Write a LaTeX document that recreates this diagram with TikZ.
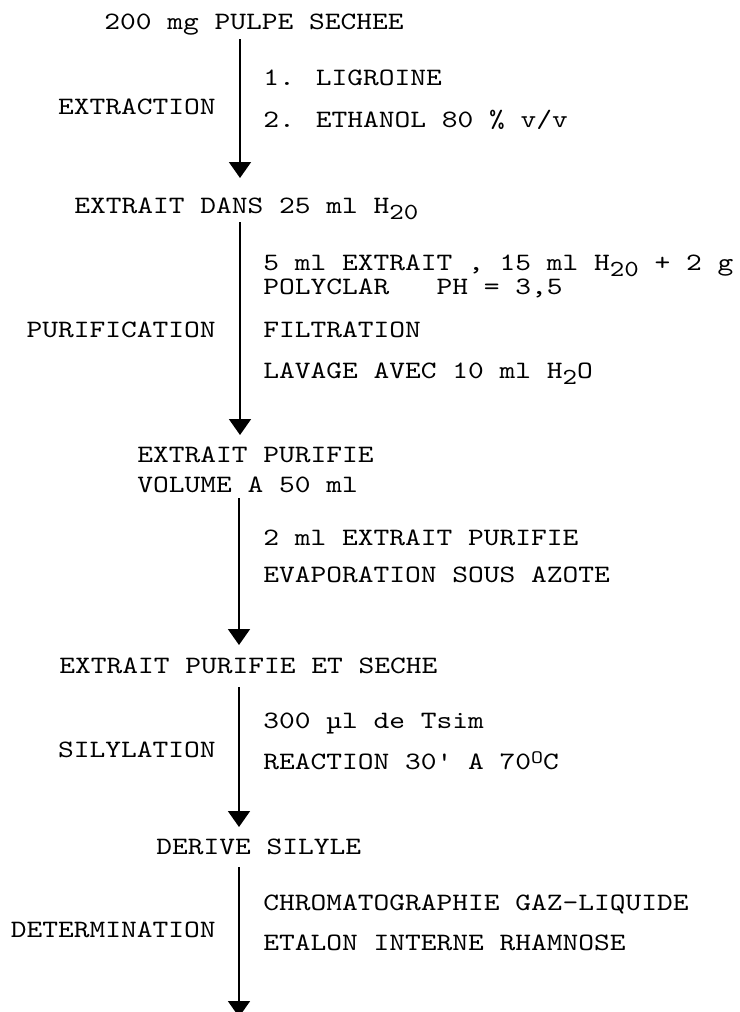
\documentclass[tikz,border=0pt]{standalone}
\usepackage{fontspec}
\usetikzlibrary{arrows.meta}
\newfontfamily\typew{lmmono10-regular.otf}[FakeStretch=1.2]
\newcommand{\lowr}[1]{\raisebox{-3pt}{\fontsize{11.5}{12}\selectfont #1}}
\newcommand{\highr}[1]{\raisebox{3pt}{\fontsize{9.5}{10}\selectfont #1}}
\tikzset{
	txt/.style={inner sep=0pt,anchor=base west,font=\typew\fontsize{12.5}{15}\selectfont},
	lbl/.style={txt,anchor=base east},
	flow/.style={line width=0.9pt,-{Triangle[length=8pt,width=11pt]}}
}
\begin{document}
\begin{tikzpicture}[x=0.5pt,y=-0.5pt]
			\clip (0,0) rectangle (739,1012);
			% products
			\node[txt] (pulpe) at (104,29) {200 mg PULPE SECHEE};
			\node[txt] (dans) at (74,213) {EXTRAIT DANS 25 ml H\lowr{20}};
			\node[txt] (purif) at (137,462) {EXTRAIT PURIFIE};
			\node[txt] (volume) at (137,492) {VOLUME A 50 ml};
			\node[txt] (seche) at (59,673) {EXTRAIT PURIFIE ET SECHE};
			\node[txt] (derive) at (156,854) {DERIVE SILYLE};
			% steps
			\node[lbl] (extr) at (216,114) {EXTRACTION};
			\node[lbl] (purific) at (216,337) {PURIFICATION};
			\node[lbl] (silyl) at (216,757) {SILYLATION};
			\node[lbl] (determ) at (216,937) {DETERMINATION};
			% conditions
			\node[txt] (ligro) at (263,85) {1. LIGROINE};
			\node[txt] (ethan) at (263,127) {2. ETHANOL 80 \% v/v};
			\node[txt] (cinq) at (263,270) {5 ml EXTRAIT , 15 ml H\lowr{20} + 2 g};
			\node[txt] (polyc) at (263,294) {POLYCLAR\ \ \ PH = 3,5};
			\node[txt] (filtr) at (263,337) {FILTRATION};
			\node[txt] (lavag) at (263,378) {LAVAGE AVEC 10 ml H\lowr{2}O};
			\node[txt] (deux) at (263,545) {2 ml EXTRAIT PURIFIE};
			\node[txt] (evap) at (263,582) {EVAPORATION SOUS AZOTE};
			\node[txt] (tsim) at (263,728) {300 µl de Tsim};
			\node[txt] (react) at (263,769) {REACTION 30' A 70\highr{O}C};
			\node[txt] (chrom) at (263,910) {CHROMATOGRAPHIE GAZ-LIQUIDE};
			\node[txt] (etal) at (263,950) {ETALON INTERNE RHAMNOSE};
			% arrows
			\coordinate (a1) at (240,39);  \coordinate (b1) at (240,178);
			\coordinate (a2) at (240,222); \coordinate (b2) at (240,435);
			\coordinate (a3) at (239,498); \coordinate (b3) at (239,645);
			\coordinate (a4) at (239,687); \coordinate (b4) at (239,827);
			\coordinate (a5) at (239,867); \coordinate (b5) at (239,1017);
			\draw[flow] (a1) -- (b1);
			\draw[flow] (a2) -- (b2);
			\draw[flow] (a3) -- (b3);
			\draw[flow] (a4) -- (b4);
			\draw[flow] (a5) -- (b5);
\end{tikzpicture}
\end{document}
